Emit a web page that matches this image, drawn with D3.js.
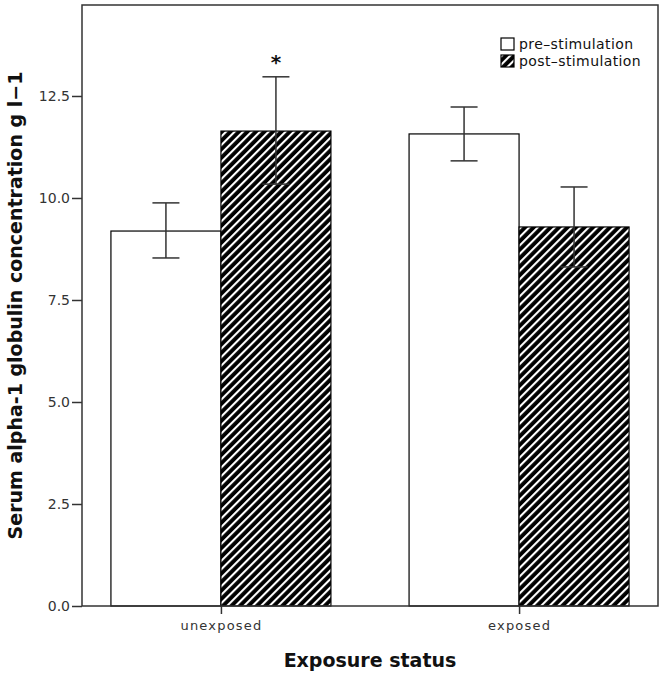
<!DOCTYPE html>
<html><head><meta charset="utf-8">
<script src="https://cdn.jsdelivr.net/npm/d3@7"></script>
<style>body{margin:0;background:#fff}svg{display:block}</style>
</head><body>
<script>
const groups = ["unexposed", "exposed"];
const series = ["pre-stimulation", "post-stimulation"];
const preMeans = [9.19, 11.57];
const preLow = [8.53, 10.91];
const preHigh = [9.88, 12.23];
const postMeans = [11.64, 9.29];
const postLow = [10.34, 8.31];
const postHigh = [12.97, 10.27];
const yTicks = [0, 2.5, 5, 7.5, 10, 12.5];
const significance = ["*", ""];

const W = 664, H = 674;
const L = 82, R = 658, T = 5, B = 606;
const svg = d3.select("body").append("svg").attr("width", W).attr("height", H);

const defs = svg.append("defs");
const pat = defs.append("pattern").attr("id", "hatch").attr("patternUnits", "userSpaceOnUse")
  .attr("width", 6).attr("height", 12).attr("patternTransform", "rotate(45)");
pat.append("rect").attr("width", 6).attr("height", 12).attr("fill", "#000");
pat.append("rect").attr("x", 0).attr("y", 0).attr("width", 2.1).attr("height", 12).attr("fill", "#fff");

const y = d3.scaleLinear().domain([0, 14.73]).range([B, T]);
const x = d3.scalePoint().domain(groups).range([L, R]).padding(0.466);
const x1 = d3.scaleBand().domain(series).range([-110, 110]).padding(0);

const rows = [];
groups.forEach((g, i) => {
  rows.push({g, s: series[0], m: preMeans[i], lo: preLow[i], hi: preHigh[i], sig: ""});
  rows.push({g, s: series[1], m: postMeans[i], lo: postLow[i], hi: postHigh[i], sig: significance[i]});
});

// bars
svg.append("g").selectAll("rect").data(rows).join("rect")
  .attr("x", d => x(d.g) + x1(d.s))
  .attr("y", d => y(d.m))
  .attr("width", x1.bandwidth())
  .attr("height", d => y(0) - y(d.m))
  .attr("fill", d => d.s === series[0] ? "#fff" : "url(#hatch)")
  .attr("stroke", "#000").attr("stroke-width", 1.2);

// error bars
const eg = svg.append("g").attr("stroke", "#333").attr("stroke-width", 1.5).attr("fill", "none");
rows.forEach(d => {
  const cx = x(d.g) + x1(d.s) + x1.bandwidth() / 2;
  eg.append("line").attr("x1", cx).attr("x2", cx).attr("y1", y(d.lo)).attr("y2", y(d.hi));
  eg.append("line").attr("x1", cx - 13.5).attr("x2", cx + 13.5).attr("y1", y(d.lo)).attr("y2", y(d.lo));
  eg.append("line").attr("x1", cx - 13.5).attr("x2", cx + 13.5).attr("y1", y(d.hi)).attr("y2", y(d.hi));
  if (d.sig) {
    svg.append("text").attr("x", cx).attr("y", y(d.hi) - 8).attr("text-anchor", "middle")
      .attr("font-family", "DejaVu Sans").attr("font-weight", "bold").attr("font-size", 20)
      .attr("fill", "#111").text(d.sig);
  }
});

// frame
svg.append("rect").attr("x", L).attr("y", T).attr("width", R - L).attr("height", B - T)
  .attr("fill", "none").attr("stroke", "#333").attr("stroke-width", 1.5);

// y axis
const ya = svg.append("g").attr("transform", `translate(${L},0)`)
  .call(d3.axisLeft(y).tickValues(yTicks).tickFormat(d3.format(".1f")).tickSize(10).tickPadding(2));
ya.select(".domain").remove();
ya.selectAll("line").attr("stroke", "#333").attr("stroke-width", 1.5);
ya.selectAll("text").attr("font-family", "DejaVu Sans").attr("font-size", 14).attr("fill", "#333");

// x axis
const xa = svg.append("g").attr("transform", `translate(0,${B})`)
  .call(d3.axisBottom(x).tickSize(8).tickPadding(7));
xa.select(".domain").remove();
xa.selectAll("line").attr("stroke", "#333").attr("stroke-width", 1.5);
xa.selectAll("text").attr("font-family", "DejaVu Sans").attr("font-size", 13)
  .attr("letter-spacing", 1.2).attr("fill", "#333");

// titles
svg.append("text").attr("x", (L + R) / 2).attr("y", 667).attr("text-anchor", "middle")
  .attr("font-family", "DejaVu Sans").attr("font-weight", "bold").attr("font-size", 19)
  .attr("fill", "#111").text("Exposure status");
svg.append("text").attr("transform", `translate(22,${(T + B) / 2}) rotate(-90)`)
  .attr("text-anchor", "middle")
  .attr("font-family", "DejaVu Sans").attr("font-weight", "bold").attr("font-size", 19)
  .attr("fill", "#111").text("Serum alpha-1 globulin concentration g l\u22121");

// legend
const lg = svg.append("g").attr("transform", "translate(501,38)");
series.forEach((s, i) => {
  lg.append("rect").attr("x", 0).attr("y", i * 17).attr("width", 13).attr("height", 12)
    .attr("fill", i === 0 ? "#fff" : "url(#hatch)").attr("stroke", "#000").attr("stroke-width", 1.2);
  lg.append("text").attr("x", 18).attr("y", i * 17 + 6).attr("dy", "0.35em")
    .attr("font-family", "DejaVu Sans").attr("font-size", 14).attr("letter-spacing", 0.4)
    .attr("fill", "#111").text(s.replace("-", "\u2013"));
});
</script>
</body></html>
